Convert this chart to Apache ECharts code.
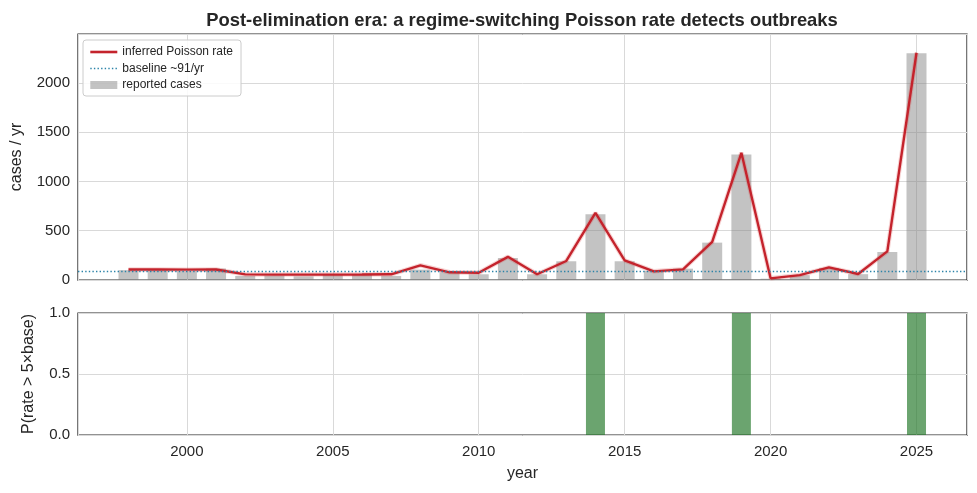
<!DOCTYPE html>
<html>
<head>
<meta charset="utf-8">
<title>Post-elimination era</title>
<script src="https://cdn.jsdelivr.net/npm/echarts@6/dist/echarts.min.js"></script>
<style>
  html, body { margin: 0; padding: 0; background: #fff; }
  #chart { width: 977px; height: 493px; }
</style>
</head>
<body>
<div id="chart"></div>
<script>
// yearly data
const years = [
  1998, 1999, 2000, 2001, 2002, 2003, 2004, 2005, 2006, 2007,
  2008, 2009, 2010, 2011, 2012, 2013, 2014, 2015, 2016, 2017,
  2018, 2019, 2020, 2021, 2022, 2023, 2024, 2025,
];
const reportedCases = [
  100, 100, 88, 116, 41, 44, 37, 58, 51, 41,
  105, 78, 58, 223, 58, 190, 667, 190, 92, 115,
  379, 1274, 13, 49, 121, 59, 284, 2300,
];
const inferredRate = [
  107, 107, 105, 107, 57, 55, 55, 55, 56, 58,
  149, 78, 74, 235, 58, 193, 680, 200, 88, 108,
  386, 1290, 17, 50, 128, 61, 290, 2305,
];
const outbreakProb = [
  0, 0, 0, 0, 0, 0, 0, 0, 0, 0,
  0, 0, 0, 0, 0, 0, 1, 0, 0, 0,
  0, 1, 0, 0, 0, 0, 0, 1,
];
const baselineRate = 91;

const X_MIN = 1996.27;
const X_MAX = 2026.73;
const FONT = "Liberation Sans, Arial, sans-serif";
const INK = "#262626";
const GRID_LINE = "#d9d9d9";
const RED = "#c4232c";
const TEAL = "#2b83a8";
const DOTS = [1.4, 2.2];

const pair = (vals) => years.map((y, i) => [y, vals[i]]);

const splitLine = { show: true, lineStyle: { color: GRID_LINE, width: 1 } };
const noMarker = { color: "rgba(0,0,0,0)", borderColor: "rgba(0,0,0,0)", borderWidth: 0 };

function xAxis(gridIndex, showLabels) {
  return {
    type: "value",
    gridIndex,
    min: X_MIN,
    max: X_MAX,
    splitNumber: 6,
    axisLine: { show: false },
    axisTick: { show: false },
    splitLine,
    axisLabel: {
      show: showLabels,
      color: INK,
      fontFamily: FONT,
      fontSize: 15,
      margin: 9,
      formatter: (v) => (v % 5 === 0 ? String(v) : ""),
    },
  };
}

const option = {
  animation: false,
  backgroundColor: "#fff",
  title: {
    text: "Post-elimination era: a regime-switching Poisson rate detects outbreaks",
    left: 517,
    top: 7,
    textAlign: "center",
    textStyle: { fontFamily: FONT, fontSize: 18.4, fontWeight: "bold", color: INK },
  },
  legend: {
    orient: "vertical",
    left: 83,
    top: 40,
    padding: [5, 8, 4, 6],
    itemWidth: 27,
    itemHeight: 8,
    itemGap: 2.5,
    borderColor: "#cccccc",
    borderWidth: 1,
    borderRadius: 3,
    backgroundColor: "rgba(255,255,255,0.85)",
    textStyle: { fontFamily: FONT, fontSize: 12, color: INK, lineHeight: 14 },
    data: [
      { name: "inferred Poisson rate", itemStyle: noMarker, lineStyle: { width: 2.6, color: RED } },
      { name: "baseline ~91/yr", itemStyle: noMarker, lineStyle: { width: 1.4, color: TEAL, type: DOTS } },
      { name: "reported cases", icon: "rect" },
    ],
  },
  grid: [
    { left: 78, right: 10, top: 34, height: 246, show: true, borderColor: "#262626", borderWidth: 1.25 },
    { left: 78, right: 10, top: 313, height: 122, show: true, borderColor: "#262626", borderWidth: 1.25 },
  ],
  xAxis: [
    xAxis(0, false),
    Object.assign(xAxis(1, true), {
      name: "year",
      nameLocation: "middle",
      nameGap: 31,
      nameTextStyle: { fontFamily: FONT, fontSize: 16, color: INK },
    }),
  ],
  yAxis: [
    {
      type: "value",
      gridIndex: 0,
      min: 0,
      max: 2495,
      interval: 500,
      name: "cases / yr",
      nameLocation: "middle",
      nameGap: 53,
      nameTextStyle: { fontFamily: FONT, fontSize: 16, color: INK },
      axisLine: { show: false },
      axisTick: { show: false },
      splitLine,
      axisLabel: {
        color: INK,
        fontFamily: FONT,
        fontSize: 15,
        margin: 8,
        formatter: (v) => (v % 500 === 0 ? String(v) : ""),
      },
    },
    {
      type: "value",
      gridIndex: 1,
      min: 0,
      max: 1,
      interval: 0.5,
      name: "P(rate > 5×base)",
      nameLocation: "middle",
      nameGap: 41,
      nameTextStyle: { fontFamily: FONT, fontSize: 16, color: INK },
      axisLine: { show: false },
      axisTick: { show: false },
      splitLine,
      axisLabel: {
        color: INK,
        fontFamily: FONT,
        fontSize: 15,
        margin: 8,
        formatter: (v) => v.toFixed(1),
      },
    },
  ],
  series: [
    {
      name: "reported cases",
      type: "bar",
      xAxisIndex: 0,
      yAxisIndex: 0,
      barWidth: 20,
      z: 1,
      itemStyle: { color: "rgba(128,128,128,0.47)" },
      data: pair(reportedCases),
    },
    {
      name: "baseline ~91/yr",
      type: "line",
      xAxisIndex: 0,
      yAxisIndex: 0,
      symbol: "none",
      z: 2,
      itemStyle: { color: TEAL },
      lineStyle: { color: TEAL, width: 1.4, type: DOTS },
      data: [],
      markLine: {
        silent: true,
        symbol: ["none", "none"],
        label: { show: false },
        lineStyle: { color: TEAL, width: 1.4, type: DOTS },
        data: [{ yAxis: baselineRate }],
      },
    },
    {
      // soft band under the rate line
      name: "rate band",
      type: "line",
      xAxisIndex: 0,
      yAxisIndex: 0,
      symbol: "none",
      z: 3,
      lineStyle: { color: "rgba(214,39,40,0.2)", width: 4.5 },
      data: pair(inferredRate),
    },
    {
      name: "inferred Poisson rate",
      type: "line",
      xAxisIndex: 0,
      yAxisIndex: 0,
      symbol: "none",
      z: 4,
      itemStyle: { color: RED },
      lineStyle: { color: RED, width: 2.4 },
      data: pair(inferredRate),
    },
    {
      name: "P(rate > 5×base)",
      type: "bar",
      xAxisIndex: 1,
      yAxisIndex: 1,
      barWidth: 19,
      itemStyle: { color: "rgba(34,120,40,0.67)" },
      data: pair(outbreakProb),
    },
  ],
};

const chart = echarts.init(document.getElementById("chart"), null, { renderer: "canvas" });
chart.setOption(option);
</script>
</body>
</html>
